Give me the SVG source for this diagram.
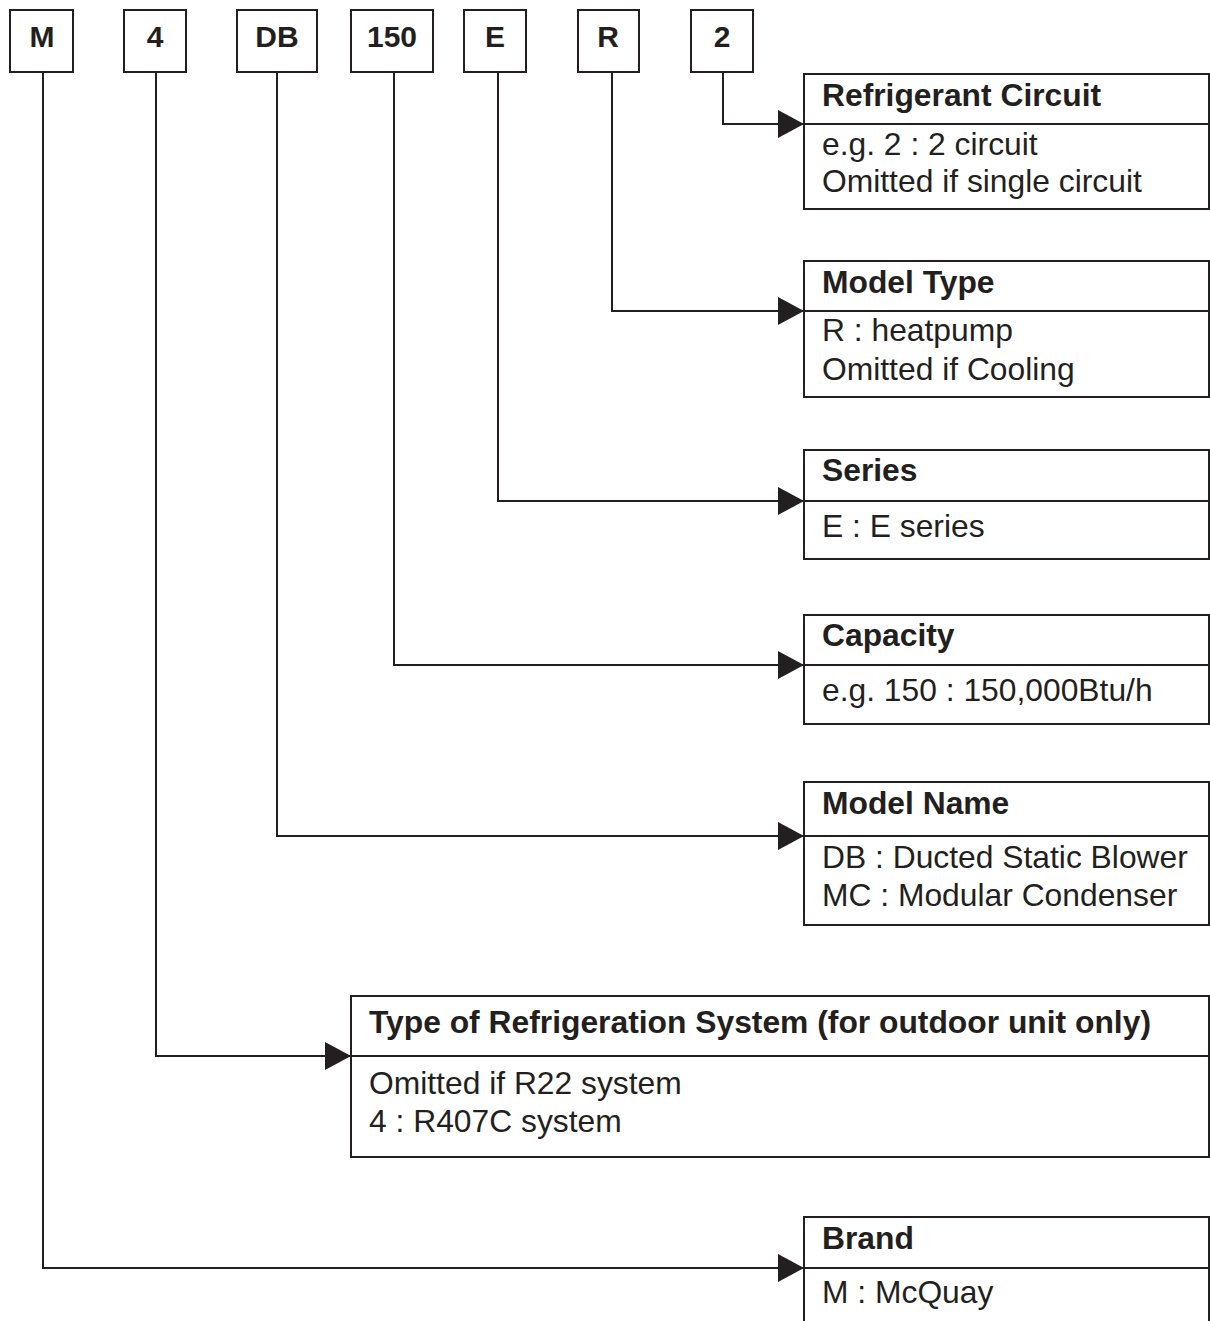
<svg xmlns="http://www.w3.org/2000/svg" width="1210" height="1321" viewBox="0 0 1210 1321">
<style>
.box{fill:#fff;stroke:#231f20;stroke-width:2}
.div{stroke:#231f20;stroke-width:2}
.con{fill:none;stroke:#231f20;stroke-width:2}
.h{font-family:"Liberation Sans",Arial,sans-serif;font-weight:bold;font-size:31.8px;fill:#231f20}
.t{font-family:"Liberation Sans",Arial,sans-serif;font-size:31.8px;fill:#231f20}
.c{font-family:"Liberation Sans",Arial,sans-serif;font-weight:bold;font-size:30px;fill:#231f20;text-anchor:middle}
</style>
<defs>
<marker id="arr" markerUnits="userSpaceOnUse" markerWidth="27" markerHeight="30" refX="26" refY="15" orient="auto">
<path d="M0,1 L26,15 L0,29 z" fill="#231f20"/>
</marker>
</defs>
<g id="connectors">
<path class="con" d="M43,72 V1268 H804" marker-end="url(#arr)"/>
<path class="con" d="M156,72 V1056 H351" marker-end="url(#arr)"/>
<path class="con" d="M277,72 V836 H804" marker-end="url(#arr)"/>
<path class="con" d="M394,72 V665 H804" marker-end="url(#arr)"/>
<path class="con" d="M498,72 V501 H804" marker-end="url(#arr)"/>
<path class="con" d="M612,72 V311 H804" marker-end="url(#arr)"/>
<path class="con" d="M723,72 V124 H804" marker-end="url(#arr)"/>
</g>
<g id="code-M"><rect class="box" x="10" y="10" width="63" height="62"/><text class="c" x="42" y="47">M</text></g>
<g id="code-4"><rect class="box" x="124" y="10" width="62" height="62"/><text class="c" x="155" y="47">4</text></g>
<g id="code-DB"><rect class="box" x="237" y="10" width="80" height="62"/><text class="c" x="277" y="47">DB</text></g>
<g id="code-150"><rect class="box" x="351" y="10" width="82" height="62"/><text class="c" x="392" y="47">150</text></g>
<g id="code-E"><rect class="box" x="464" y="10" width="62" height="62"/><text class="c" x="495" y="47">E</text></g>
<g id="code-R"><rect class="box" x="578" y="10" width="61" height="62"/><text class="c" x="608" y="47">R</text></g>
<g id="code-2"><rect class="box" x="691" y="10" width="62" height="62"/><text class="c" x="722" y="47">2</text></g>

<g id="refrigerant-circuit"><rect class="box" x="804" y="74" width="405" height="135"/><line class="div" x1="804" y1="124" x2="1209" y2="124"/>
<text class="h" x="822" y="106">Refrigerant Circuit</text>
<text class="t" x="822" y="155">e.g. 2 : 2 circuit</text>
<text class="t" x="822" y="192">Omitted if single circuit</text></g>

<g id="model-type"><rect class="box" x="804" y="261" width="405" height="136"/><line class="div" x1="804" y1="311" x2="1209" y2="311"/>
<text class="h" x="822" y="293">Model Type</text>
<text class="t" x="822" y="341">R : heatpump</text>
<text class="t" x="822" y="380">Omitted if Cooling</text></g>

<g id="series"><rect class="box" x="804" y="450" width="405" height="109"/><line class="div" x1="804" y1="501" x2="1209" y2="501"/>
<text class="h" x="822" y="481">Series</text>
<text class="t" x="822" y="537">E : E series</text></g>

<g id="capacity"><rect class="box" x="804" y="615" width="405" height="109"/><line class="div" x1="804" y1="665" x2="1209" y2="665"/>
<text class="h" x="822" y="646">Capacity</text>
<text class="t" x="822" y="701">e.g. 150 : 150,000Btu/h</text></g>

<g id="model-name"><rect class="box" x="804" y="782" width="405" height="143"/><line class="div" x1="804" y1="836" x2="1209" y2="836"/>
<text class="h" x="822" y="814">Model Name</text>
<text class="t" x="822" y="868">DB : Ducted Static Blower</text>
<text class="t" x="822" y="906">MC : Modular Condenser</text></g>

<g id="refrigeration-system"><rect class="box" x="351" y="996" width="858" height="161"/><line class="div" x1="351" y1="1056" x2="1209" y2="1056"/>
<text class="h" x="369" y="1033">Type of Refrigeration System (for outdoor unit only)</text>
<text class="t" x="369" y="1094">Omitted if R22 system</text>
<text class="t" x="369" y="1132">4 : R407C system</text></g>

<g id="brand"><rect class="box" x="804" y="1217" width="405" height="120"/><line class="div" x1="804" y1="1268" x2="1209" y2="1268"/>
<text class="h" x="822" y="1249">Brand</text>
<text class="t" x="822" y="1303">M : McQuay</text></g>
</svg>
